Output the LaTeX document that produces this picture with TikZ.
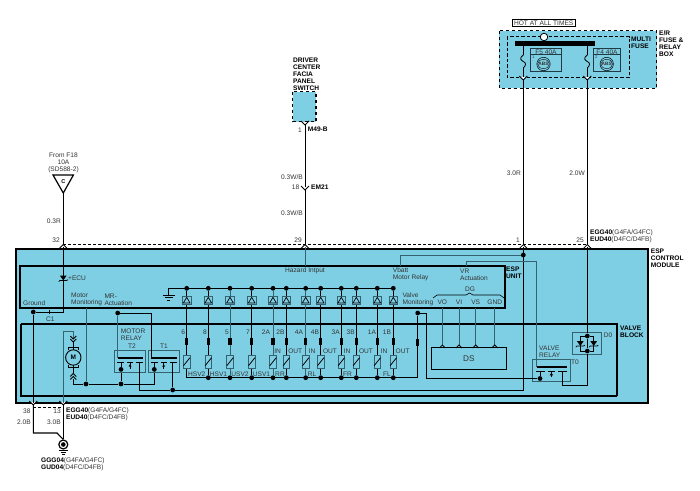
\documentclass[tikz,border=0pt]{standalone}
\usepackage{fontspec}
\setmainfont{Liberation Sans}
\usetikzlibrary{calc}

\definecolor{boxblue}{HTML}{7FCFE4}
\definecolor{tealwire}{HTML}{35626F}
\definecolor{labelgray}{HTML}{333333}

\tikzset{
    x=1pt, y=-1pt,
    txt/.style={font=\fontsize{6.6}{7}\selectfont, inner sep=0pt, text=labelgray, align=left},
    txtl/.style={txt, anchor=west},
    txtr/.style={txt, anchor=east},
    txtb/.style={txtl, font=\fontsize{6.6}{7}\bfseries\selectfont, text=black},
    wire/.style={line width=.8pt, black},
    wirec/.style={line width=.9pt, tealwire},
    dot/.style={circle, fill=black, inner sep=0pt, minimum size=4.8pt},
    dashbox/.style={draw=black, line width=1.4pt, dash pattern=on 3.5pt off 2.5pt, fill=boxblue},
    fusemark/.style={rectangle, fill=black, inner sep=0pt, minimum width=3.5pt, minimum height=7pt},
    pinup/.pic={
        \fill[white] (-2.5,3) -- (0,0) -- (2.5,3) -- cycle;
        \draw[line width=.8pt] (-4,4) -- (0,0) -- (4,4);
    },
    chev/.pic={
        \draw[line width=.8pt] (-3,3) -- (0,0) -- (3,3);
    },
    relay/.pic={
        \draw[line width=.9pt, tealwire] (0,0) rectangle (31.4,22);
        \draw[line width=2pt] (3.4,7.3) -- (29,7.3);
        \draw[line width=.8pt] (3,12) -- (10,12) (13,12) -- (19,12) (21.5,12) -- (28.5,12);
        \draw[line width=.8pt] (15.7,12) -- (15.7,18);
        \fill (15.7,13.5) -- (14.2,16) -- (17.2,16) -- cycle;
    },
    valvecell/.pic={
        \draw[line width=.8pt, tealwire, fill=boxblue] (-3.2,-6.5) rectangle (3.2,6.5);
        \draw[line width=.8pt] (-3.2,4) -- (3.2,-4);
    },
    switchcell/.pic={
        \draw[line width=.9pt, tealwire, fill=boxblue] (-4.3,-4.3) rectangle (4.3,4.3);
        \draw[line width=.7pt] (-3.3,2.6) -- (0,-3) -- (3.3,2.6) -- cycle;
    },
    fusewave/.pic={
        \draw[line width=.8pt] (0,0) .. controls (-4,3) and (-3,5) .. (0,6.5) .. controls (3,8) and (3,10) .. (0,13);
    },
    absring/.pic={
        \draw[line width=.5pt] (0,0) circle (6.7);
        \draw[line width=.4pt] (0,0) ellipse (5.9 and 4.6);
    },
    diodedown/.pic={
        \fill (-3.4,-2.5) -- (3.4,-2.5) -- (0,2.5) -- cycle;
        \draw[line width=.8pt] (-4.5,3.6) -- (-3.4,2.5) -- (3.4,2.5) -- (4.5,1.6);
    }
}

\begin{document}
\begin{tikzpicture}
    \useasboundingbox (0,0) rectangle (700,490);

    % blue housings
    \draw[line width=1.1pt, fill=boxblue] (16,249) rectangle (648,403);
    \draw[dashbox] (499.3,30.7) rectangle (656.7,88.3);
    \draw[dashbox] (292.7,91.7) rectangle (316,121.7);
    \draw[line width=1pt, dash pattern=on 3.5pt off 2pt] (507.3,36.7) rectangle (629,77.7);
    \draw[line width=1.2pt] (20,266) rectangle (505,308);
    \draw[line width=1.1pt] (21,324) -- (617,324) -- (617,396);
    \draw[line width=1.7pt] (617,396) -- (21,396) -- (21,324);

    % outside connections
    \coordinate (pinA) at (63.3,247);
    \coordinate (pinB) at (305,247);
    \coordinate (pinC) at (523.3,247);
    \coordinate (pinD) at (587.3,247);
    \coordinate (botA) at (33.3,403);
    \coordinate (botB) at (63.3,403);
    \node[txt, draw=black, line width=.7pt, fill=white, inner xsep=1.5pt, inner ysep=1pt, anchor=center] (hot) at (543.7,23) {HOT AT ALL TIMES};
    \node[circle, draw=black, line width=.8pt, fill=white, inner sep=0pt, minimum size=7.5pt] (feed) at (544,37) {};
    \node[rectangle, fill=black, inner sep=0pt, minimum width=80.3pt, minimum height=4.7pt] (busbar) at (555.2,43.7) {};
    \draw[wire, line width=1pt] (523.3,46) -- (523.3,55) (523.3,68) -- (pinC);
    \draw[wire, line width=1pt] (587.3,46) -- (587.3,55) (587.3,68) -- (pinD);
    \pic at (523.3,55) {fusewave};
    \pic at (587.3,55) {fusewave};
    \pic[rotate=180] at (523.3,80) {pinup};
    \pic[rotate=180] at (587.3,80) {pinup};
    \draw[line width=.7pt, tealwire!60!black] (530.3,48.7) rectangle (561.7,71.7) (530.3,54.3) -- (561.7,54.3);
    \draw[line width=.7pt, tealwire!60!black] (593.3,48.7) rectangle (620.7,71.7) (593.3,54.3) -- (620.7,54.3);
    \pic at (543.5,64) {absring};
    \pic at (606.7,64) {absring};
    \node[txt, anchor=center, font=\fontsize{4.8}{6}\bfseries\selectfont] (absA) at (543.5,64) {ABS};
    \node[txt, anchor=center, font=\fontsize{4.8}{6}\bfseries\selectfont] (absB) at (606.7,64) {ABS};
    \node[txt, anchor=center] (fuseA) at (546,51.8) {F5 40A};
    \node[txt, anchor=center] (fuseB) at (607,51.8) {F4 40A};
    \node[txt, anchor=west, font=\fontsize{4}{5}\selectfont] (numA) at (532,57.5) {1};
    \node[txt, anchor=west, font=\fontsize{4}{5}\selectfont] (numB) at (595,57.5) {2};

    \draw[wire, line width=1pt] (305,122) -- (pinB);
    \pic[rotate=180] at (305,125) {pinup};
    \pic[rotate=180] at (305,190) {pinup};

    \draw[wire, line width=1.2pt, fill=white] (53,175) -- (73.4,175) -- (63.3,193) -- cycle;
    \node[txt, anchor=center, text=black, font=\fontsize{5.5}{6}\bfseries\selectfont] (markC) at (63.3,181.5) {C};
    \draw[wire, line width=1pt] (63.3,193) -- (pinA);
    \draw[line width=.5pt, dash pattern=on 3pt off 2pt] (pinA |- 0,244) -- (pinD |- 0,244);
    \draw[line width=.5pt, dash pattern=on 3pt off 2pt] (33.3,407) -- (63.3,407);
    \pic at (pinA |- 0,244.5) {pinup};
    \pic at (pinB |- 0,244.5) {pinup};
    \pic at (pinC |- 0,244.5) {pinup};
    \pic at (pinD |- 0,244.5) {pinup};

    % ground leads
    \node[circle, draw=black, line width=1.2pt, inner sep=0pt, minimum size=9pt] (gndring) at (63.3,444.5) {};
    \fill (gndring.center) circle (2.3);
    \draw[line width=1.1pt] (58.8,450.3) -- (67.8,450.3);
    \draw[line width=.6pt] (60.5,452.2) -- (66.1,452.2) (62,454) -- (64.6,454);
    \draw[wire, line width=1.1pt] (botA) -- (33.3,433) -- (57,433) -- (gndring.north);
    \draw[wire, line width=1.1pt] (botB) -- (gndring.north);
    \pic[rotate=180] at (33.3,405) {pinup};
    \pic[rotate=180] at (63.3,405) {pinup};

    % ground / ECU feed
    \node[dot] (gnddot) at (33.3,312) {};
    \draw[wire] (pinA) -- (63.3,312) -- (gnddot);
    \draw[wire] (gnddot) -- (botA);
    \draw[wire] (49.5,310) -- (49.5,314);
    \pic at (63.3,278) {diodedown};

    % motor
    \coordinate (mTop) at (73.3,331.7);
    \coordinate (mBot) at (73.3,384);
    \node[dot] (mmDot) at (86,384) {};
    \node[dot] (t2Low) at (121,384) {};
    \node[dot] (t2Dot) at (121,369.4) {};
    \node[dot] (t1Dot) at (154.3,369.4) {};
    \node[circle, draw=black, line width=.9pt, fill=boxblue, inner sep=0pt, minimum size=15.4pt, font=\fontsize{6.5}{7}\bfseries\selectfont] (motor) at (73.3,357.5) {M};
    \draw[wirec] (botB) -- (63.3,331.7) -- (mTop) -- (73.3,339);
    \draw[wire] (73.3,341) -- (73.3,350);
    \draw[wire] (73.3,365) -- (73.3,373);
    \draw[wire] (73.3,379) -- (mBot) -- (mmDot) -- (t2Low) -- (154.3,384) -- (t1Dot);
    \draw[line width=.8pt] (68.3,350) -- (68.3,347.7) -- (78.3,347.7) -- (78.3,350);
    \draw[line width=.8pt] (68.3,364.5) -- (68.3,367) -- (78.3,367) -- (78.3,364.5);
    \pic[rotate=180] at (73.3,339) {chev};
    \pic[rotate=180] at (73.3,342) {chev};
    \pic at (73.3,373.5) {chev};
    \pic at (73.3,376.5) {chev};
    \draw[wirec] (86,308) -- (mmDot);
    \draw[wire] (t2Dot) -- (t2Low);

    % relays
    \pic at (114.3,350.7) {relay};
    \pic at (148,350.7) {relay};
    \pic[xscale=1.19] at (532.7,359.3) {relay};
    \draw[wire] (121,362.7) -- (t2Dot);
    \draw[wire] (154.3,362.7) -- (t1Dot);
    \node[dot] (mrDot) at (117.7,313) {};
    \draw[wirec] (mrDot) -- (117.7,358);
    \draw[wire] (mrDot) -- (151,313) -- (151,358);
    \node[dot] (supDot) at (523.3,255) {};
    \node[dot] (t1Ret) at (172.7,390) {};
    \draw[wire] (pinC) -- (523.3,390) -- (t1Ret) -- (139.3,390) -- (139.3,362.7);
    \draw[wire] (t1Ret) -- (172.7,362.7);
    \draw[wirec] (supDot) -- (400.7,255) -- (400.7,266);
    \draw[wirec] (466.7,266) -- (466.7,261) -- (536.7,261) -- (536.7,366.7);
    \draw[wirec] (pinB) -- (305,266);

    % valve rows
    \coordinate (gndTop) at (168.3,288.3);
    \coordinate (valveMon) at (417.7,377.7);
    \draw[wire] (168.3,295) -- (gndTop) -- (393.3,288.3);
    \draw[line width=.9pt] (162.7,295) -- (175,295) (164.7,297.5) -- (173,297.5) (167,300.6) -- (170.4,300.6);
    \draw[wire] (186.7,377.7) -- (valveMon);
    \coordinate (bot6) at (186.7,377.7);
    \foreach \vx/\vname in {208.3/8, 230/5, 251.7/7, 273/2A, 286.3/2B, 305.7/4A, 320.7/4B, 341.3/3A, 356.3/3B, 377.3/1A, 393.3/1B} {
        \node[dot] (bot\vname) at (\vx,377.7) {};
    }
    \foreach \vx/\vname/\vlab/\vcol in {186.7/6/183.3/wire, 208.3/8/205/wire, 230/5/227/wirec, 251.7/7/248/wire, 273/2A/266/wirec, 286.3/2B/280.5/wire, 305.7/4A/299/wirec, 320.7/4B/315/wire, 341.3/3A/335.7/wire, 356.3/3B/350.7/wire, 377.3/1A/372/wire, 393.3/1B/387/wire} {
        \node[dot] (top\vname) at (\vx,288.3) {};
        \draw[\vcol] (top\vname) -- (bot\vname);
        \pic at (\vx,300.3) {switchcell};
        \pic at (\vx,361.7) {valvecell};
        \node[fusemark] (fuse\vname) at (\vx,341.7) {};
        \node[txt, anchor=center] (num\vname) at (\vlab,332) {\vname};
    }
    \foreach \ix/\itxt [count=\ic] in {277.7/IN, 295.3/OUT, 312/IN, 330/OUT, 347/IN, 366/OUT, 384/IN, 402.7/OUT} {
        \node[txt, anchor=center] (dir\ic) at (\ix,351) {\itxt};
    }
    \foreach \lx/\ltxt [count=\lc] in {196.7/HSV2, 218.5/HSV1, 240/USV2, 261.5/USV1, 280/RR, 312/RL, 347.5/FR, 387/FL} {
        \node[txt, anchor=center] (grp\lc) at (\lx,374) {\ltxt};
    }
    \node[dot] (vmDot) at (417.7,313) {};
    \node[fusemark] (vmFuse) at (417.7,342) {};
    \draw[wire] (vmDot) -- (valveMon);
    \node[dot] (t0Dot) at (540,378.5) {};
    \draw[wire] (vmDot) -- (426.7,313) -- (426.7,378.5) -- (t0Dot);
    \draw[wire] (540,371) -- (t0Dot);

    % data sensor
    \node[draw=black, line width=.8pt, minimum width=75.7pt, minimum height=21.6pt, inner sep=0pt, font=\fontsize{8.2}{10}\selectfont, text=labelgray] (ds) at (468.8,358.5) {DS};
    \foreach \dx/\dname in {442.3/VO, 459/VI, 475.7/VS, 494.7/GND} {
        \node[txt, anchor=center] (sig\dname) at (\dx,302) {\dname};
        \draw[wirec] (\dx,308) -- (\dx,345);
        \pic at (\dx,345) {chev};
    }
    \draw[line width=.6pt] (433,298) -- (437,295) -- (466,295) -- (469.5,293) -- (473,295) -- (500,295) -- (504,298);

    % valve relay and diodes
    \node[dot] (d0Top) at (587.3,336) {};
    \node[dot] (d0Bot) at (587.3,351) {};
    \draw[wirec, line width=.9pt] (572.3,332) rectangle (601.7,354);
    \draw[wire] (pinD) -- (d0Top) -- (d0Bot) -- (587.3,385.3) -- (562.3,385.3) -- (562.3,371);
    \draw[wire] (d0Top) -- (580.3,336) -- (580.3,351) -- (d0Bot) -- (593.7,351) -- (593.7,336) -- (d0Top);
    \pic at (580.3,343.5) {diodedown};
    \pic at (593.7,343.5) {diodedown};

    % labels
    \node[txtb, align=left] (mfuse) at (631,43.2) {MULTI\\FUSE};
    \node[txtb, align=left] (erbox) at (659,43.7) {E/R\\FUSE \&\\RELAY\\BOX};
    \node[txtb, align=left] (dash) at (293,74.2) {DRIVER\\CENTER\\FACIA\\PANEL\\SWITCH};
    \node[txtr] (p1) at (302,130) {1};
    \node[txtb] (conA) at (307.7,129.7) {M49-B};
    \node[txtr] (wA) at (303,176.7) {0.3W/B};
    \node[txtr] (p18) at (299.5,187) {18};
    \node[txtb] (conB) at (311,187) {EM21};
    \node[txtr] (wB) at (303,212.7) {0.3W/B};
    \node[txt, anchor=center, align=center] (from) at (63.5,162.7) {From F18\\10A\\(SD588-2)};
    \node[txtr] (wC) at (61,221) {0.3R};
    \node[txtr] (wD) at (521,173) {3.0R};
    \node[txtr] (wE) at (585,173) {2.0W};
    \node[txtr] (p32) at (60,240) {32};
    \node[txtr] (p29) at (302,240) {29};
    \node[txtr] (p1b) at (520,240) {1};
    \node[txtr] (p25) at (584,240) {25};
    \node[txtl] (eggA) at (590,232.5) {\textbf{\textcolor{black}{EGG40}}(G4FA/G4FC)};
    \node[txtl] (eudA) at (590,240) {\textbf{\textcolor{black}{EUD40}}(D4FC/D4FB)};
    \node[txtb, align=left] (esp) at (650.7,258.7) {ESP\\CONTROL\\MODULE};
    \node[txtb, align=left] (espu) at (506,272.7) {ESP\\UNIT};
    \node[txtb, align=left] (vblock) at (620,331.7) {VALVE\\BLOCK};
    \node[txtl] (ecu) at (68,278.5) {+ECU};
    \node[txtl] (ground) at (23,303) {Ground};
    \node[txtl] (c1) at (46,319.5) {C1};
    \node[txtl] (mmon) at (71,299.7) {Motor\\Monitoring};
    \node[txtl] (mract) at (104.3,299.7) {MR-\\Actuation};
    \node[txt, anchor=center] (haz) at (305,271) {Hazard Intput};
    \node[txtl] (vbatt) at (392.7,274.5) {Vbatt\\Motor Relay};
    \node[txtl] (vract) at (460,274.5) {VR\\Actuation};
    \node[txt, anchor=center] (dg) at (470,289) {DG};
    \node[txtl] (vmon) at (402.3,299.7) {Valve\\Monitoring};
    \node[txtl] (mrel) at (120.7,334.2) {MOTOR\\RELAY};
    \node[txt, anchor=center] (lT2) at (132,346) {T2};
    \node[txt, anchor=center] (lT1) at (164,346) {T1};
    \node[txtl] (vrel) at (539,351.7) {VALVE\\RELAY};
    \node[txt, anchor=center] (lT0) at (575,362) {T0};
    \node[txt, anchor=center] (lD0) at (608,335) {D0};
    \node[txtr] (p38) at (30.7,411) {38};
    \node[txtr] (p13) at (61,411) {13};
    \node[txtl] (eggB) at (66,411) {\textbf{\textcolor{black}{EGG40}}(G4FA/G4FC)};
    \node[txtl] (eudB) at (66,418) {\textbf{\textcolor{black}{EUD40}}(D4FC/D4FB)};
    \node[txtr] (wF) at (31,422) {2.0B};
    \node[txtr] (wG) at (61,422) {3.0B};
    \node[txtl] (gggA) at (41,460.5) {\textbf{\textcolor{black}{GGG04}}(G4FA/G4FC)};
    \node[txtl] (gudA) at (41,467.5) {\textbf{\textcolor{black}{GUD04}}(D4FC/D4FB)};
\end{tikzpicture}
\end{document}
